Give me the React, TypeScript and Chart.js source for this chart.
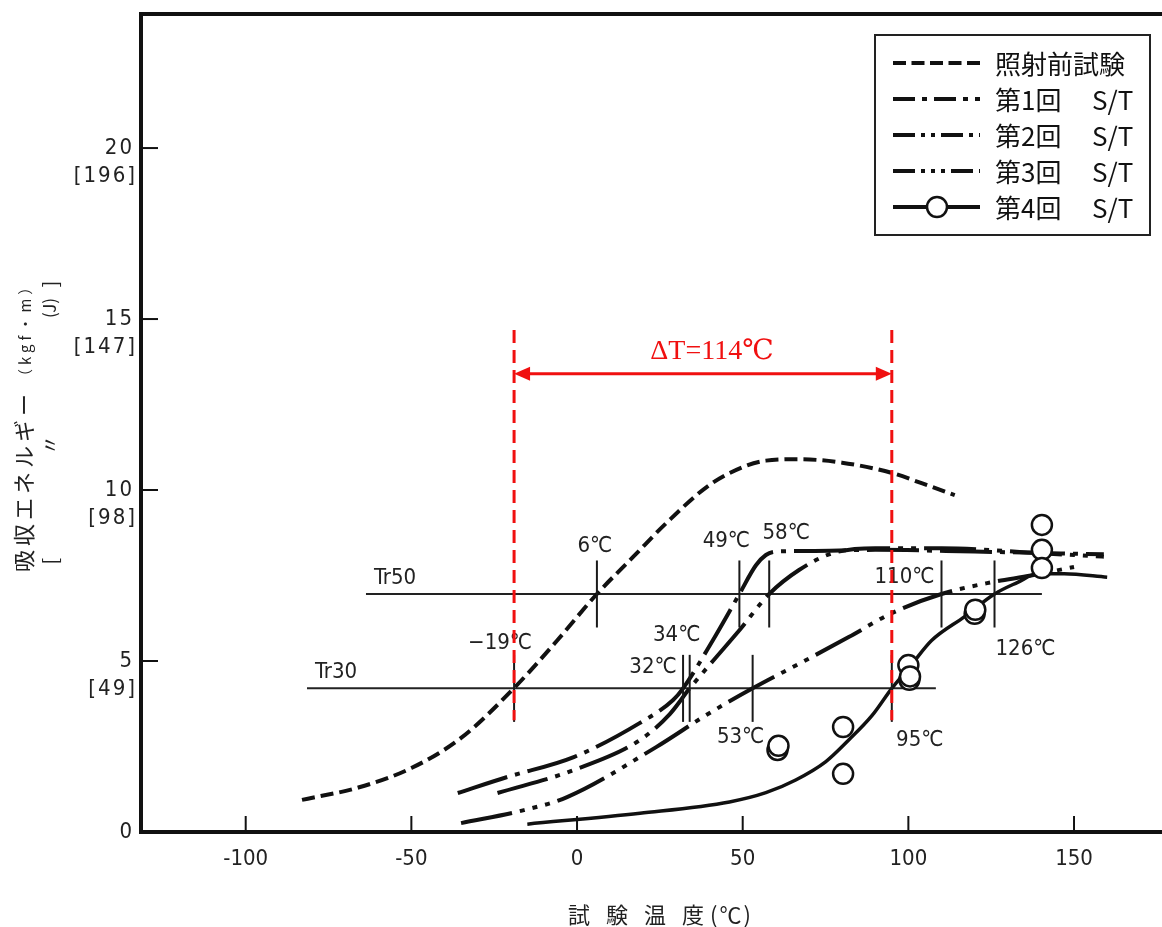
import React, { useEffect, useRef } from 'react';
import { Chart, registerables } from 'chart.js';
Chart.register(...registerables);

// ---------------- data ----------------
const preX = [-83, -66, -50, -35, -19, -6, 6, 17, 27, 40, 50, 57, 67, 80, 95, 104, 114];
const preY = [0.94, 1.3, 1.87, 2.75, 4.21, 5.6, 6.96, 8.05, 9.04, 10.15, 10.67, 10.86, 10.9, 10.8, 10.5, 10.2, 9.85];

const st1X = [-36, -21, -1, 19, 29, 32, 41, 49, 54, 57, 60, 70, 90, 120, 159];
const st1Y = [1.14, 1.61, 2.19, 3.19, 3.86, 4.2, 5.61, 6.96, 7.8, 8.1, 8.2, 8.22, 8.25, 8.2, 8.12];

const st2X = [-24, -1, 19, 28, 34, 41, 49, 58, 67, 77, 90, 110, 140, 159];
const st2Y = [1.14, 1.81, 2.69, 3.45, 4.2, 5.0, 5.9, 6.96, 7.66, 8.15, 8.3, 8.3, 8.15, 8.05];

const st3X = [-35, -16, -3, 24, 39, 53, 68, 82, 95, 110, 125, 137, 150];
const st3Y = [0.26, 0.64, 1.02, 2.49, 3.42, 4.2, 4.97, 5.7, 6.4, 6.96, 7.3, 7.5, 7.75];

const st4X = [-15, 19, 46, 57, 66, 75, 82, 89, 95, 101, 107, 117, 126, 133, 139, 147, 160];
const st4Y = [0.23, 0.55, 0.88, 1.15, 1.52, 2.05, 2.69, 3.4, 4.2, 4.9, 5.6, 6.3, 6.96, 7.3, 7.55, 7.55, 7.45];

const st4PointX = [60.5, 60.8, 80.3, 80.3, 100, 100.3, 100.5, 120, 120.2, 140.3, 140.3, 140.3];
const st4PointY = [2.4, 2.52, 3.07, 1.7, 4.88, 4.45, 4.55, 6.38, 6.5, 8.98, 8.25, 7.72];

const seriesLabels = ['照射前試験', '第1回 S/T', '第2回 S/T', '第3回 S/T', '第4回 S/T'];

const xTicks = [-100, -50, 0, 50, 100, 150];
const yTicks = [0, 5, 10, 15, 20];
const yTicksJ = ['', '[49]', '[98]', '[147]', '[196]'];

const trNames = ['Tr50', 'Tr30'];
const trLevels = [6.96, 4.2];
const trLineFrom = [-63.7, -81.5];
const trLineTo = [140.3, 108.3];
const tr50Temps = [6, 49, 58, 110, 126];
const tr30Temps = [-19, 32, 34, 53, 95];
const deltaFrom = -19;
const deltaTo = 95;

// ---------------- styles ----------------
const X_MIN = -131.6;
const X_MAX = 176.55;
const Y_MAX = 23.92;
const INK = '#1a1a1a';
const RED = '#f01010';
const JP = '"Noto Sans CJK JP", sans-serif';
const NUM = '"Liberation Sans Narrow", "DejaVu Sans Condensed", "Noto Sans CJK JP", sans-serif';
const plotDashes = [[13, 6], [52, 8, 5, 8], [52, 8, 5, 8, 5, 8], [52, 8, 5, 8, 5, 8, 5, 8], []];
const legendDashes = [[13, 5.5], [22, 7, 5, 7], [22, 6, 4, 6, 4, 6], [22, 6, 4, 6, 4, 6, 4, 6], []];
// label offsets (px) relative to crossing points
const tr50LabelOff = [[-2, -48], [-13, -53], [17, -61], [-37, -17], [31, 55]];
const tr30LabelOff = [[-14, -45], [-30, -21], [-13, -53], [-12, 49], [28, 52]];

const xy = (xs: number[], ys: number[]) => xs.map((x, i) => ({ x, y: ys[i] }));

const setLS = (ctx: any, v: string) => { try { ctx.letterSpacing = v; } catch (e) {} };

const fmtT = (t: number) => (t < 0 ? '−' + Math.abs(t) : String(t)) + '℃';

const customPlugin = {
  id: 'customDraw',
  afterDatasetsDraw(chart: any) {
    const ctx = chart.ctx as CanvasRenderingContext2D;
    const xs = chart.scales.x;
    const ys = chart.scales.y;
    const area = chart.chartArea;
    const X = (v: number) => xs.getPixelForValue(v);
    const Y = (v: number) => ys.getPixelForValue(v);
    ctx.save();

    // Tr crossing tick marks and labels
    ctx.strokeStyle = INK;
    ctx.lineWidth = 2;
    ctx.fillStyle = '#222';
    ctx.font = '22px ' + NUM;
    ctx.textAlign = 'center';
    ctx.textBaseline = 'middle';
    const tempsSets = [tr50Temps, tr30Temps];
    const offs = [tr50LabelOff, tr30LabelOff];
    tempsSets.forEach((temps, k) => {
      const lvl = trLevels[k];
      temps.forEach((t, i) => {
        ctx.beginPath();
        ctx.moveTo(X(t), Y(lvl + 0.98));
        ctx.lineTo(X(t), Y(lvl - 0.98));
        ctx.stroke();
        ctx.fillText(fmtT(t), X(t) + offs[k][i][0], Y(lvl) + offs[k][i][1]);
      });
      ctx.textAlign = 'left';
      ctx.fillText(trNames[k], X(trLineFrom[k]) + 8, Y(lvl) - 16);
      ctx.textAlign = 'center';
    });

    // frame
    ctx.strokeStyle = '#111';
    ctx.lineWidth = 4;
    ctx.beginPath();
    ctx.moveTo(area.left, area.bottom);
    ctx.lineTo(area.left, area.top);
    ctx.lineTo(area.right + 5, area.top);
    ctx.moveTo(area.left - 2, area.bottom);
    ctx.lineTo(area.right + 5, area.bottom);
    ctx.stroke();

    // x ticks
    ctx.lineWidth = 2;
    ctx.fillStyle = '#222';
    ctx.font = '22px ' + NUM;
    ctx.textAlign = 'center';
    ctx.textBaseline = 'middle';
    xTicks.forEach((v) => {
      ctx.beginPath();
      ctx.moveTo(X(v), area.bottom);
      ctx.lineTo(X(v), area.bottom - 16);
      ctx.stroke();
      ctx.fillText(String(v), X(v), area.bottom + 27);
    });
    // y ticks
    ctx.textAlign = 'right';
    yTicks.forEach((v, i) => {
      if (v !== 0) {
        ctx.beginPath();
        ctx.moveTo(area.left, Y(v));
        ctx.lineTo(area.left + 17, Y(v));
        ctx.stroke();
      }
      setLS(ctx, '2px');
      ctx.fillText(String(v), area.left - 7, Y(v));
      if (yTicksJ[i]) ctx.fillText(yTicksJ[i], area.left - 4, Y(v) + 28);
      setLS(ctx, '0px');
    });

    // x title
    ctx.font = '22px ' + JP;
    ctx.textAlign = 'left';
    setLS(ctx, '16px');
    ctx.fillText('試験温度', 568, 915);
    setLS(ctx, '2px');
    ctx.fillText('(℃)', 710, 915);
    setLS(ctx, '0px');

    // y title (rotated)
    ctx.save();
    ctx.translate(24, 572);
    ctx.rotate(-Math.PI / 2);
    ctx.textAlign = 'left';
    ctx.textBaseline = 'middle';
    ctx.font = '22px ' + JP;
    setLS(ctx, '4px');
    ctx.fillText('吸収エネルギー', 0, 0);
    ctx.font = '15px ' + JP;
    ctx.fillText('（kgf・m）', 188, 1);
    setLS(ctx, '0px');
    ctx.restore();
    ctx.save();
    ctx.translate(50, 572);
    ctx.rotate(-Math.PI / 2);
    ctx.textAlign = 'center';
    ctx.textBaseline = 'middle';
    ctx.font = '20px ' + JP;
    ctx.fillText('[', 11, 0);
    ctx.fillText('〃', 127, 0);
    ctx.font = '17px ' + JP;
    ctx.fillText('(J)', 264, 0);
    ctx.font = '20px ' + JP;
    ctx.fillText(']', 288, 0);
    ctx.restore();

    // red ΔT annotation
    ctx.strokeStyle = RED;
    ctx.fillStyle = RED;
    ctx.lineWidth = 3;
    ctx.setLineDash([13, 7]);
    [deltaFrom, deltaTo].forEach((t) => {
      ctx.beginPath();
      ctx.moveTo(X(t), Y(14.68));
      ctx.lineTo(X(t), Y(3.27));
      ctx.stroke();
    });
    ctx.setLineDash([]);
    const ay = Y(13.4);
    const x1 = X(deltaFrom);
    const x2 = X(deltaTo);
    ctx.beginPath();
    ctx.moveTo(x1 + 12, ay);
    ctx.lineTo(x2 - 12, ay);
    ctx.stroke();
    ctx.beginPath();
    ctx.moveTo(x1, ay);
    ctx.lineTo(x1 + 16, ay - 7);
    ctx.lineTo(x1 + 16, ay + 7);
    ctx.closePath();
    ctx.fill();
    ctx.beginPath();
    ctx.moveTo(x2, ay);
    ctx.lineTo(x2 - 16, ay - 7);
    ctx.lineTo(x2 - 16, ay + 7);
    ctx.closePath();
    ctx.fill();
    ctx.font = '28px "Liberation Serif", "DejaVu Serif", serif';
    ctx.textAlign = 'center';
    ctx.textBaseline = 'middle';
    ctx.fillText('ΔT=' + (deltaTo - deltaFrom) + '℃', (x1 + x2) / 2 + 9, ay - 22);

    // legend
    const lx = 875, ly = 35, lw = 275, lh = 200;
    ctx.fillStyle = '#fff';
    ctx.fillRect(lx, ly, lw, lh);
    ctx.strokeStyle = '#222';
    ctx.lineWidth = 2;
    ctx.strokeRect(lx, ly, lw, lh);
    ctx.font = '26px ' + JP;
    ctx.textAlign = 'left';
    ctx.textBaseline = 'middle';
    seriesLabels.forEach((lab, i) => {
      const ry = ly + 28 + i * 36;
      ctx.strokeStyle = '#111';
      ctx.lineWidth = 4;
      ctx.setLineDash(legendDashes[i]);
      ctx.beginPath();
      ctx.moveTo(893, ry);
      ctx.lineTo(980, ry);
      ctx.stroke();
      ctx.setLineDash([]);
      if (i === 4) {
        ctx.beginPath();
        ctx.arc(937, ry, 10, 0, Math.PI * 2);
        ctx.fillStyle = '#fff';
        ctx.fill();
        ctx.lineWidth = 2.5;
        ctx.stroke();
      }
      ctx.fillStyle = '#111';
      const parts = lab.split(' ');
      ctx.fillText(parts[0], 995, ry + 1);
      if (parts[1]) ctx.fillText(parts[1], 1092, ry + 1);
    });
    ctx.restore();
  },
};

export default function App() {
  const ref = useRef<HTMLCanvasElement>(null);
  useEffect(() => {
    const lineSets = [
      [preX, preY],
      [st1X, st1Y],
      [st2X, st2Y],
      [st3X, st3Y],
      [st4X, st4Y],
    ];
    const datasets: any[] = lineSets.map((s, i) => ({
      label: seriesLabels[i],
      data: xy(s[0], s[1]),
      borderColor: '#111',
      borderWidth: i === 4 ? 3.5 : 4,
      borderDash: plotDashes[i],
      pointRadius: 0,
      fill: false,
      cubicInterpolationMode: 'monotone',
      order: 2,
    }));
    datasets.push({
      label: seriesLabels[4] + ' data',
      data: xy(st4PointX, st4PointY),
      showLine: false,
      pointRadius: 10,
      pointBackgroundColor: '#fff',
      pointBorderColor: '#111',
      pointBorderWidth: 2.5,
      order: 0,
    });
    trNames.forEach((n, k) => {
      datasets.push({
        label: n,
        data: [
          { x: trLineFrom[k], y: trLevels[k] },
          { x: trLineTo[k], y: trLevels[k] },
        ],
        borderColor: '#222',
        borderWidth: 2,
        pointRadius: 0,
        order: 3,
      });
    });

    const chart = new Chart(ref.current as HTMLCanvasElement, {
      type: 'line',
      data: { datasets },
      options: {
        responsive: false,
        animation: false,
        devicePixelRatio: 1,
        layout: { autoPadding: false, padding: { top: 14, left: 0, right: 0, bottom: 0 } },
        plugins: { legend: { display: false }, tooltip: { enabled: false } },
        scales: {
          x: {
            type: 'linear',
            min: X_MIN,
            max: X_MAX,
            ticks: { display: false },
            grid: { display: false },
            border: { display: false },
            afterFit: (s: any) => { s.height = 95; },
          },
          y: {
            type: 'linear',
            min: 0,
            max: Y_MAX,
            ticks: { display: false },
            grid: { display: false },
            border: { display: false },
            afterFit: (s: any) => { s.width = 141; },
          },
        },
      } as any,
      plugins: [customPlugin],
    });
    return () => chart.destroy();
  }, []);
  return (
    <div style={{ position: 'absolute', left: 0, top: 0, width: 1162, height: 927, background: '#fff', overflow: 'hidden' }}>
      <canvas ref={ref} width={1162} height={927} style={{ display: 'block' }} />
    </div>
  );
}
